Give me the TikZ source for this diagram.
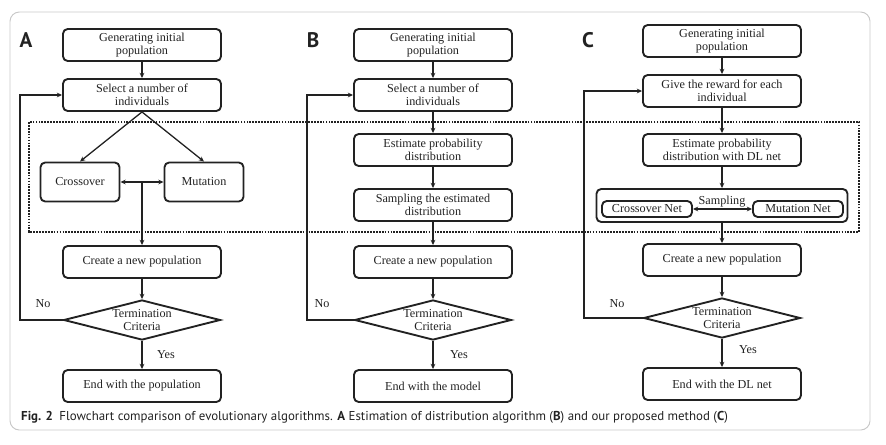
\documentclass[tikz,border=0pt]{standalone}
\usepackage{fontspec}
\setmainfont{Liberation Serif}
\newfontfamily\capfont{PT Sans}
\usetikzlibrary{arrows.meta,shapes.geometric}
\definecolor{ink}{RGB}{34,34,34}
\definecolor{framegray}{RGB}{200,200,200}
\tikzset{
  proc/.style={draw=ink,line width=1.6pt,rounded corners=4pt,minimum width=4.74cm,minimum height=0.96cm,align=center,inner sep=0pt,text=ink,font=\fontsize{10.4}{11.2}\selectfont},
  half/.style={proc,minimum width=2.37cm,minimum height=1.17cm},
  net/.style={proc,minimum width=2.7cm,minimum height=0.48cm},
  decide/.style={diamond,draw=ink,line width=1.6pt,minimum width=4.7cm,minimum height=1.2cm,inner sep=0pt,aspect=3.9},
  dtxt/.style={align=center,text=ink,inner sep=0pt,font=\fontsize{10.4}{11.2}\selectfont},
  flow/.style={draw=ink,line width=1.1pt,-{Stealth[length=4.5pt,width=4pt]}},
  both/.style={draw=ink,line width=1.1pt,{Stealth[length=4.5pt,width=4pt]}-{Stealth[length=4.5pt,width=4pt]}},
  zone/.style={draw=ink,line width=1.5pt,densely dotted},
  tag/.style={font=\capfont\bfseries\fontsize{18}{18}\selectfont,text=ink,inner sep=0pt},
  note/.style={text=ink,inner sep=0pt,font=\fontsize{10.4}{11.2}\selectfont}
}
\begin{document}
\begin{tikzpicture}[x=0.03cm,y=-0.03cm]
  \useasboundingbox (0,0) rectangle (886,445);
  \draw[framegray,line width=0.8pt,rounded corners=8pt] (10,12) rectangle (870,430);
  \draw[zone] (29,122) rectangle (859,232);

  \node[tag] (taga) at (26,40) {A};
  \node[proc] (gena) at (142,45) {Generating initial\\population};
  \node[proc] (sela) at (142,95) {Select a number of\\individuals};
  \node[half] (crsa) at (80,182) {Crossover};
  \node[half] (muta) at (204,182) {Mutation};
  \node[proc] (crea) at (142,262) {Create a new population};
  \node[decide] (tera) at (142,320) {}; \node[dtxt] (tta) at (tera) {Termination\\Criteria};
  \node[proc] (enda) at (142,386) {End with the population};
  \coordinate (backa) at (20,320);
  \draw[flow] (gena) -- (sela);
  \draw[flow] (sela.south) -- (crsa.north); \draw[flow] (sela.south) -- (muta.north);
  \draw[both] (crsa) -- (muta); \draw[flow] (crea.north |- crsa.east) -- (crea);
  \draw[flow] (crea) -- (tera); \draw[flow] (tera) -- (enda);
  \draw[flow] (tera.west) -- (backa) |- (sela.west);
  \node[note] at (43,304) {No}; \node[note] at (166,355) {Yes};

  \node[tag] (tagb) at (313,40) {B};
  \node[proc] (genb) at (433,45) {Generating initial\\population};
  \node[proc] (selb) at (433,95) {Select a number of\\individuals};
  \node[proc] (estb) at (433,150) {Estimate probability\\distribution};
  \node[proc] (smpb) at (433,205) {Sampling the estimated\\distribution};
  \node[proc] (creb) at (433,262) {Create a new population};
  \node[decide] (terb) at (433,320) {}; \node[dtxt] (ttb) at (terb) {Termination\\Criteria};
  \node[proc] (endb) at (433,386) {End with the model};
  \coordinate (backb) at (307,320);
  \draw[flow] (genb) -- (selb); \draw[flow] (selb) -- (estb); \draw[flow] (estb) -- (smpb);
  \draw[flow] (smpb) -- (creb); \draw[flow] (creb) -- (terb); \draw[flow] (terb) -- (endb);
  \draw[flow] (terb.west) -- (backb) |- (selb.west);
  \node[note] at (322,304) {No}; \node[note] at (459,355) {Yes};

  \node[tag] (tagc) at (588,40) {C};
  \node[proc] (genc) at (722,41) {Generating initial\\population};
  \node[proc] (rwdc) at (722,91) {Give the reward for each\\individual};
  \node[proc] (estc) at (722,150) {Estimate probability\\distribution with DL net};
  \node[proc,minimum width=7.53cm,minimum height=0.99cm] (smpc) at (722,205.5) {};
  \node[net] (crsc) at (647,209) {Crossover Net};
  \node[net] (mutc) at (798,209) {Mutation Net};
  \node[note] (smpt) at (722,202) {Sampling};
  \node[proc] (crec) at (722,260) {Create a new population};
  \node[decide] (terc) at (722,318) {}; \node[dtxt] (ttc) at (terc) {Termination\\Criteria};
  \node[proc] (endc) at (722,384) {End with the DL net};
  \coordinate (backc) at (584,318);
  \draw[flow] (genc) -- (rwdc); \draw[flow] (rwdc) -- (estc); \draw[flow] (estc) -- (smpc);
  \draw[both] (crsc) -- (mutc);
  \draw[flow] (smpc) -- (crec); \draw[flow] (crec) -- (terc); \draw[flow] (terc) -- (endc);
  \draw[flow] (terc.west) -- (backc) |- (rwdc.west);
  \node[note] at (617,304) {No}; \node[note] at (748,350) {Yes};

  \node[anchor=west,inner sep=0pt,text=ink,font=\capfont\fontsize{11}{12}\selectfont] (capt) at (21,417)
    {\textbf{Fig. 2}\enspace Flowchart comparison of evolutionary algorithms. \textbf{A} Estimation of distribution algorithm (\textbf{B}) and our proposed method (\textbf{C})};
\end{tikzpicture}
\end{document}
